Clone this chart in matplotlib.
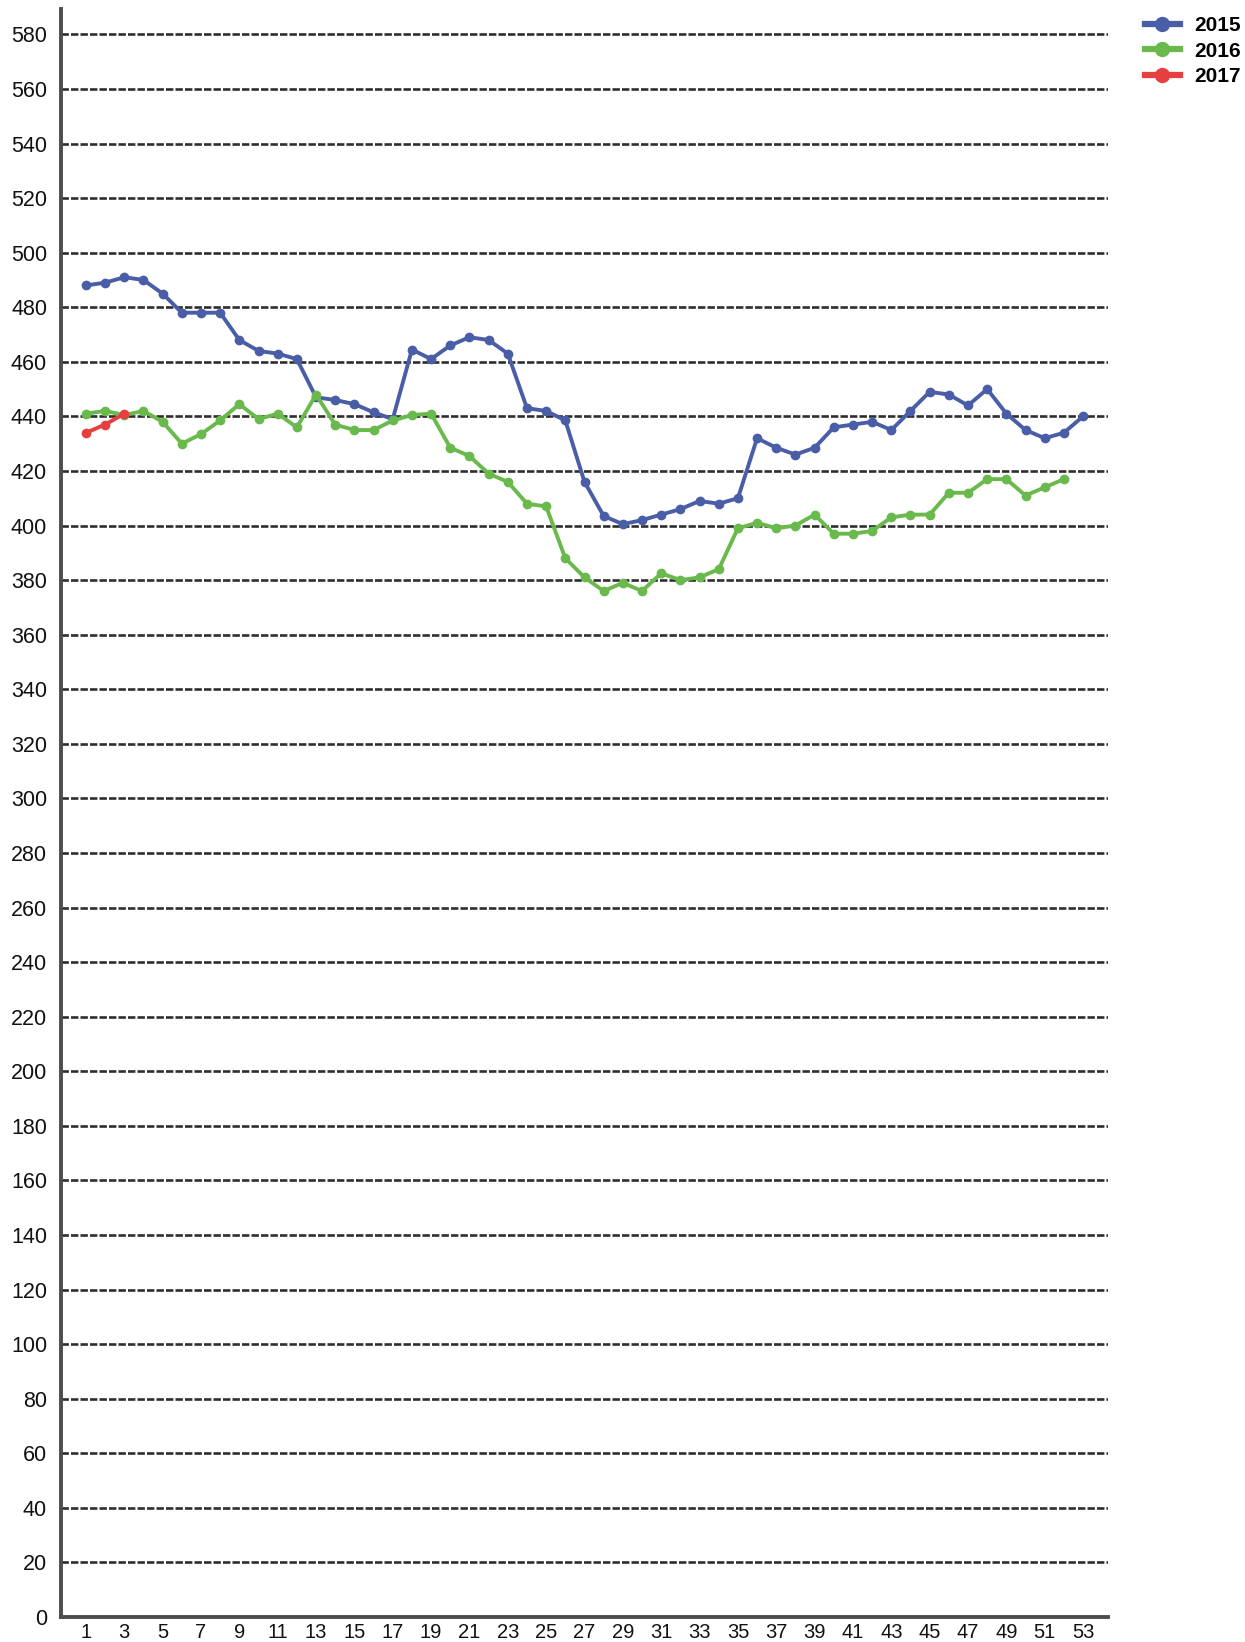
import matplotlib
matplotlib.use("Agg")
import matplotlib.pyplot as plt
from matplotlib.lines import Line2D

plt.rcParams['font.family'] = ['Liberation Sans', 'DejaVu Sans']

weeks_2015 = list(range(1, 54))
values_2015 = [488, 489, 491, 490, 485, 478, 478, 478, 468, 464,
               463, 461, 447, 446, 444.5, 441.5, 439, 464.5, 461, 466,
               469, 468, 463, 443, 442, 438.5, 416, 403.5, 400.5, 402,
               404, 406, 409, 408, 410, 432, 428.5, 426, 428.5, 436,
               437, 438, 435, 442, 449, 448, 444, 450, 441, 435,
               432, 434, 440]

weeks_2016 = list(range(1, 53))
values_2016 = [441, 442, 440.5, 442, 438, 430, 433.5, 438.5, 444.5, 439,
               441, 436, 448, 437, 435, 435, 438.5, 440.5, 441, 428.5,
               425.5, 419, 416, 408, 407, 388, 381, 376, 379, 376,
               382.5, 380, 381, 384, 399, 401, 399, 400, 404, 397,
               397, 398, 403, 404, 404, 412, 412, 417, 417, 411,
               414, 417]

weeks_2017 = [1, 2, 3]
values_2017 = [434, 437, 441]

series_names = ['2015', '2016', '2017']
series_colors = ['#4a5ea8', '#6ab94d', '#e5403f']
yticks = list(range(0, 600, 20))
xticks = list(range(1, 54, 2))

fig = plt.figure(figsize=(12.45, 16.42), dpi=100)
ax = fig.add_axes([61/1245, 25/1642, (1108-61)/1245, (1617-9)/1642])

for y in yticks[1:]:
    ax.axhline(y, color='#2e2e2e', lw=1.9, linestyle=(0, (2.8, 0.8)), zorder=1)

data = [(weeks_2015, values_2015), (weeks_2016, values_2016), (weeks_2017, values_2017)]
for (xs, ys), name, c in zip(data, series_names, series_colors):
    ax.plot(xs, ys, color=c, lw=2.8, marker='o', markersize=6, label=name, zorder=3)

ax.set_xlim(-0.3, 54.3)
ax.set_ylim(0, 589.3)
ax.set_yticks(yticks)
ax.set_xticks(xticks)
ax.tick_params(axis='both', length=0, colors='#111111')
ax.tick_params(axis='y', pad=10, labelsize=15.5)
ax.tick_params(axis='x', pad=4, labelsize=14.5)
for s in ['top', 'right']:
    ax.spines[s].set_visible(False)
for s in ['left', 'bottom']:
    ax.spines[s].set_color('#4d4d4d')
    ax.spines[s].set_linewidth(2.8)

handles = [Line2D([0], [0], color=c, lw=4.5, marker='o', markersize=10) for c in series_colors]
leg = fig.legend(handles, series_names, loc='upper right', bbox_to_anchor=(0.997, 0.990),
                 frameon=False, prop={'weight': 'bold', 'size': 15},
                 handlelength=1.7, handletextpad=0.7, labelspacing=0.3,
                 borderaxespad=0.0, borderpad=0.0)

fig.savefig('out.png', dpi=100)
